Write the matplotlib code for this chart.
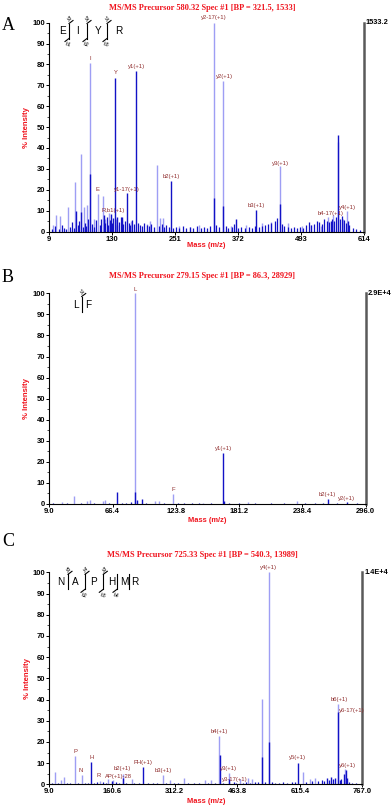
# MS/MS spectra of three peptides (panels A, B, C), redrawn with matplotlib
import matplotlib
matplotlib.use("Agg")
import matplotlib.pyplot as plt
from matplotlib.transforms import Affine2D
from matplotlib.ticker import MultipleLocator

plt.rcParams['font.family'] = ['Liberation Sans', 'DejaVu Sans']

# ========== colours ==========
LIGHT = "#9e9ef4"
DARK = "#1212c6"
LABEL_RED = "#8e2b2b"
TITLE_RED = "#f0141e"

# ========== panel A: EIYR ==========
TITLE_A = "MS/MS Precursor 580.32 Spec #1 [BP = 321.5, 1533]"
MAX_A = "1533.2"
XT_A = [9, 130, 251, 372, 493, 614]
XT_A_LABELS = ["9", "130", "251", "372", "493", "614"]
MAJOR_LIGHT_A = [(16.7, 3), (22.5, 8), (30, 7.6), (44.4, 11.5), (59, 23.7), (69.9, 37.3),
                 (75.7, 11.8), (81.5, 12.5), (87.3, 80.5), (95, 6), (102.5, 18.1),
                 (112.8, 17.2), (117, 6), (123, 9), (137, 6), (149, 5.5), (166, 5),
                 (197, 3.5), (203, 5), (216, 31.7), (222, 6.5), (227, 6.5), (258, 2.5),
                 (280, 2), (296, 3), (325, 100), (342, 72.1), (359, 2.5), (388, 3),
                 (417, 4), (436, 4.5), (451.9, 31.2), (467, 4), (495, 2.5), (512, 3),
                 (532, 2.5), (545, 7), (555, 8), (564.5, 43), (573, 6), (582, 9.7)]
MAJOR_DARK_A = [(59.5, 10), (70.5, 9.5), (87.8, 27.7), (113.5, 8), (128, 8.5),
                (135.9, 73.4), (140, 7), (148, 7), (159, 18.6), (175.1, 77.1),
                (243, 24.4), (325.5, 16.1), (342.5, 12.4), (367, 6), (406.4, 10.5),
                (452.3, 13), (550, 5), (563.4, 46.3), (583, 5)]
NOISE_A = [(14, 1.0), (20, 2.5), (27, 1.2), (33, 3.0), (38, 1.5), (42, 1.0), (48, 2.0),
           (53, 4.5), (56, 1.5), (64, 3.0), (67, 5.0), (73, 2.0), (77, 4.0), (80, 2.5),
           (84, 6.0), (91, 3.5), (94, 2.0), (98, 5.5), (106, 3.0), (109, 6.0), (116, 4.0),
           (119, 7.0), (122, 3.0), (125, 5.5), (129, 4.0), (132, 6.5), (139, 3.0),
           (143, 4.5), (146, 7.0), (151, 3.5), (154, 5.0), (162, 4.0), (165, 3.0),
           (168, 5.5), (172, 3.5), (179, 4.0), (183, 3.0), (187, 2.5), (191, 4.0),
           (196, 3.0), (200, 2.5), (205, 3.5), (210, 2.0), (220, 2.5), (225, 3.5),
           (229, 2.0), (234, 3.0), (239, 2.0), (247, 1.5), (253, 2.0), (259, 1.5),
           (266, 2.5), (272, 1.5), (279, 2.0), (286, 1.5), (293, 2.5), (300, 1.5),
           (307, 2.0), (313, 1.5), (318, 2.5), (330, 3.0), (335, 2.0), (348, 2.5),
           (353, 1.5), (360, 2.0), (365, 3.5), (372, 1.5), (378, 2.0), (385, 1.5),
           (392, 2.0), (398, 1.5), (404, 2.5), (412, 2.0), (418, 2.5), (424, 3.0),
           (430, 3.5), (436, 4.0), (442, 5.0), (447, 6.5), (456, 3.5), (461, 2.5),
           (467, 2.0), (473, 1.5), (479, 2.0), (485, 1.5), (491, 2.0), (497, 1.5),
           (503, 3.0), (508, 4.5), (513, 3.0), (518, 3.5), (524, 5.0), (528, 4.5),
           (533, 3.5), (538, 6.0), (542, 5.0), (547, 4.5), (552, 6.0), (556, 5.0),
           (560, 7.0), (567, 6.0), (571, 7.5), (575, 5.5), (579, 4.0), (586, 3.0),
           (592, 1.5), (599, 1.0), (606, 0.5)]
LABELS_A = [("I", 87.3, 82.7), ("Y", 136, 76.1), ("y1(+1)", 177, 79), ("y2-17(+1)", 325, 102.6),
            ("y2(+1)", 345, 74.2), ("E", 102, 20), ("R,b1(+1)", 131.5, 10),
            ("y1-17(+1)", 157.8, 20), ("b2(+1)", 243, 26.4), ("b3(+1)", 407.7, 12.6),
            ("y3(+1)", 452.5, 32.8), ("b4-17(+1)", 550.5, 8.6), ("y4(+1)", 583, 11.3)]

# ========== panel B: LF ==========
TITLE_B = "MS/MS Precursor 279.15 Spec #1 [BP = 86.3, 28929]"
MAX_B = "2.9E+4"
XT_B = [9.0, 66.4, 123.8, 181.2, 238.4, 296.0]
XT_B_LABELS = ["9.0", "66.4", "123.8", "181.2", "238.4", "296.0"]
MAJOR_LIGHT_B = [(20.2, 1.1), (31.7, 3.9), (42.9, 1.5), (45.9, 1.9), (57.4, 1.2),
                 (59.8, 2.0), (86.3, 100), (104.9, 1.4), (108.8, 1.4), (120.8, 4.6),
                 (148.1, 0.6), (189.5, 0.9), (233.4, 1.6)]
MAJOR_DARK_B = [(70.7, 5.6), (86.8, 5.8), (88.5, 2.0), (92.8, 2.4),
                (166.6, 24.4), (167.5, 1.3), (261.5, 2.2), (279.2, 1.1)]
NOISE_B = [(12, 0.3), (25, 0.4), (38, 0.5), (50, 0.4), (63, 0.6), (75, 0.7), (79, 0.5),
           (83, 0.8), (97, 0.5), (113, 0.4), (126, 0.6), (131, 0.5), (138, 0.4),
           (145, 0.3), (156, 0.4), (172, 0.4), (181, 0.3), (196, 0.3), (210, 0.3),
           (222, 0.5), (241, 0.3), (250, 0.5), (257, 0.4), (270, 0.3), (288, 0.3)]
LABELS_B = [("L", 86.8, 101.9), ("y1(+1)", 166.9, 26.4), ("F", 121.8, 7.1),
            ("b2(+1)", 261.5, 4.3), ("y2(+1)", 278.8, 2.7)]

# ========== panel C: NAPHMR ==========
TITLE_C = "MS/MS Precursor 725.33 Spec #1 [BP = 540.3, 13989]"
MAX_C = "1.4E+4"
XT_C = [9.0, 160.6, 312.2, 463.8, 615.4, 767.0]
XT_C_LABELS = ["9.0", "160.6", "312.2", "463.8", "615.4", "767.0"]
MAJOR_LIGHT_C = [(23.5, 5.9), (38, 1.8), (43.8, 3.3), (70.4, 13.4), (87.5, 4.2),
                 (131.7, 1.5), (150, 2.3), (163, 2.0), (186.5, 4.7), (208.4, 2.6),
                 (283.3, 4.4), (300, 2.0), (335.7, 3.0), (385, 1.8), (400, 2.0),
                 (420.3, 22.8), (444.5, 5.2), (470, 2.3), (490, 2.8), (500, 2.3),
                 (522.8, 40.1), (539.8, 100), (622, 5.7), (640, 2.3), (652, 3.0),
                 (707.5, 37.7), (725.2, 7.0)]
MAJOR_DARK_C = [(110.6, 10.4), (160, 1.6), (186.8, 3.0), (236.4, 8.0), (421, 14.0),
                (445, 2.5), (522.8, 13.0), (540.2, 19.8), (611.5, 9.9), (680, 3.0),
                (690, 3.5), (700, 3.0), (707.8, 34.0), (722, 5.0), (726.1, 6.7),
                (730, 3.0)]
NOISE_C = [(15, 0.5), (30, 0.8), (52, 0.6), (60, 0.8), (78, 0.7), (95, 0.6), (102, 0.8),
           (118, 0.7), (125, 0.9), (140, 1.0), (146, 0.8), (170, 0.9), (178, 0.7),
           (195, 0.8), (215, 0.7), (225, 0.6), (248, 0.7), (260, 0.6), (270, 0.8),
           (292, 0.6), (310, 0.7), (320, 0.6), (345, 0.5), (360, 0.6), (372, 0.5),
           (392, 0.6), (410, 0.7), (430, 0.8), (455, 0.9), (462, 0.7), (478, 0.8),
           (485, 1.0), (495, 0.8), (508, 1.1), (515, 0.9), (530, 1.0), (548, 0.9),
           (556, 0.8), (565, 0.7), (574, 0.9), (585, 0.8), (596, 1.0), (603, 1.2),
           (630, 1.0), (645, 1.4), (660, 1.6), (668, 2.2), (674, 1.5), (685, 2.0),
           (695, 2.5), (712, 2.0), (716, 2.5), (735, 1.2), (742, 0.6), (752, 0.4)]
LABELS_C = [("y4(+1)", 539.8, 102.2), ("b6(+1)", 709.9, 40.1), ("y6-17(+1)", 740.6, 34.7),
            ("y6(+1)", 731, 8.8), ("y5(+1)", 610, 12.6), ("b4(+1)", 419.6, 25.1),
            ("y3(+1)", 443, 7.5), ("y3-17(+1)", 458.3, 2.3), ("b3(+1)", 285.8, 6.6),
            ("PH(+1)", 236.4, 10.2), ("b2(+1)", 186, 7.4), ("AP(+1)-28", 176, 3.6),
            ("R", 128, 4.0), ("H", 111.6, 12.6), ("N", 85.7, 6.3), ("P", 71.9, 15.7)]

# sequence annotations: letters, letter x (px), baseline y (px), cuts (x px, top, bottom)
SEQ_A = (["E", "I", "Y", "R"], [63, 78, 98, 119], 31.5,
         [(69, "y3", "b1"), (87, "y2", "b2"), (107, "y1", "b3")])
SEQ_B = (["L", "F"], [75.7, 88.3], 304.5, [(81.7, "y1", None)])
SEQ_C = (["N", "A", "P", "H", "M", "R"], [60.5, 75, 94, 111.5, 124, 134.5], 582.3,
         [(68, "y5", None), (85, "y4", "b2"), (103.3, "y3", "b3"),
          (117, None, "b4"), (129.3, None, None)])

W, H = 392, 807


def draw_peaks(ax, light, dark, noise):
    """Vertical stick peaks: light centroid bars, dark profile bars, then baseline noise"""
    ax.vlines([m for m, _ in light], 0, [v for _, v in light], color=LIGHT, lw=1.0)
    ax.vlines([m for m, _ in noise], 0, [v for _, v in noise], color=DARK, lw=0.9)
    ax.vlines([m for m, _ in dark], 0, [v for _, v in dark], color=DARK, lw=1.0)


def style_axes(ax, xlim, ticks, tick_labels, max_label, xlabel_y):
    ax.set_xlim(*xlim)
    ax.set_ylim(0, 100)
    ax.set_xticks(ticks)
    ax.set_xticklabels(tick_labels)
    ax.set_yticks(range(0, 101, 10))
    ax.yaxis.set_minor_locator(MultipleLocator(5))
    ax.tick_params(axis='both', which='major', labelsize=5.5, length=2, width=0.7, pad=1)
    ax.tick_params(axis='y', which='minor', length=1.2, width=0.5)
    for lab in ax.get_xticklabels() + ax.get_yticklabels():
        lab.set_fontweight('bold')
    ax.spines['top'].set_visible(False)
    ax.spines['left'].set_linewidth(0.8)
    ax.spines['bottom'].set_linewidth(0.8)
    ax.spines['right'].set_color("#5a5a5a")
    ax.spines['right'].set_linewidth(1.8)
    ax.set_xlabel("Mass (m/z)", color=TITLE_RED, fontsize=5.4, fontweight='bold')
    ax.set_ylabel("% Intensity", color=TITLE_RED, fontsize=5.6, fontweight='bold')
    ax.xaxis.set_label_coords(0.5, xlabel_y)
    ax.yaxis.set_label_coords(-0.060, 0.5)
    ax.text(1.006, 1.0, max_label, transform=ax.transAxes, fontsize=5.3,
            fontweight='bold', va='center', ha='left')


def draw_labels(ax, labels):
    for txt, mz, val in labels:
        ax.text(mz, val, txt, color=LABEL_RED, fontsize=4.2, ha='center', va='center',
                clip_on=False)


def draw_sequence(fig, tr, seq):
    letters, xs, y, cuts = seq
    for ch, x in zip(letters, xs):
        fig.text(x, y, ch, transform=tr, fontsize=7.2, ha='center', va='center')
    for x, top, bot in cuts:
        fig.add_artist(plt.Line2D([x, x], [y - 8, y + 7], transform=tr, color='black', lw=0.8))
        if top:
            fig.add_artist(plt.Line2D([x, x + 4], [y - 8, y - 11], transform=tr,
                                      color='black', lw=0.8))
            fig.text(x + 1.5, y - 13, top, transform=tr, fontsize=3.6, ha='center',
                     va='center', rotation=30)
        if bot:
            fig.add_artist(plt.Line2D([x, x - 4], [y + 7, y + 10], transform=tr,
                                      color='black', lw=0.8))
            fig.text(x - 1, y + 13, bot, transform=tr, fontsize=3.6, ha='center',
                     va='center', rotation=-20)


def main():
    fig = plt.figure(figsize=(W / 100, H / 100), dpi=100)
    # figure pixel transform (origin top-left, y down)
    px = Affine2D().scale(1 / W, -1 / H).translate(0, 1) + fig.transFigure

    def axes_at(x0, x1, y0, y1):
        return fig.add_axes([x0 / W, 1 - y1 / H, (x1 - x0) / W, (y1 - y0) / H])

    ax_a = axes_at(49.3, 364, 22.7, 231.5)
    ax_b = axes_at(49.3, 365.7, 293.3, 504)
    ax_c = axes_at(49.3, 362.5, 572.3, 784.3)

    draw_peaks(ax_a, MAJOR_LIGHT_A, MAJOR_DARK_A, NOISE_A)
    draw_peaks(ax_b, MAJOR_LIGHT_B, MAJOR_DARK_B, NOISE_B)
    draw_peaks(ax_c, MAJOR_LIGHT_C, MAJOR_DARK_C, NOISE_C)

    # xlabel coordinate is the top of the label
    style_axes(ax_a, (9, 614), XT_A, XT_A_LABELS, MAX_A, -0.050)
    style_axes(ax_b, (9, 296), XT_B, XT_B_LABELS, MAX_B, -0.060)
    style_axes(ax_c, (9, 767), XT_C, XT_C_LABELS, MAX_C, -0.066)

    draw_labels(ax_a, LABELS_A)
    draw_labels(ax_b, LABELS_B)
    draw_labels(ax_c, LABELS_C)

    # titles and panel letters
    for title, y in [(TITLE_A, 8), (TITLE_B, 275.7), (TITLE_C, 555)]:
        fig.text(202, y, title, transform=px, color=TITLE_RED, fontsize=6,
                 fontweight='bold', family=['Liberation Serif', 'DejaVu Serif'],
                 ha='center', va='center')
    for letter, y in [("A", 25), ("B", 277), ("C", 542)]:
        fig.text(2, y, letter, transform=px, fontsize=13,
                 family=['Liberation Serif', 'DejaVu Serif'], ha='left', va='center')

    draw_sequence(fig, px, SEQ_A)
    draw_sequence(fig, px, SEQ_B)
    draw_sequence(fig, px, SEQ_C)

    fig.savefig("out.png", dpi=100, facecolor='white')
    plt.close(fig)


if __name__ == "__main__":
    main()
